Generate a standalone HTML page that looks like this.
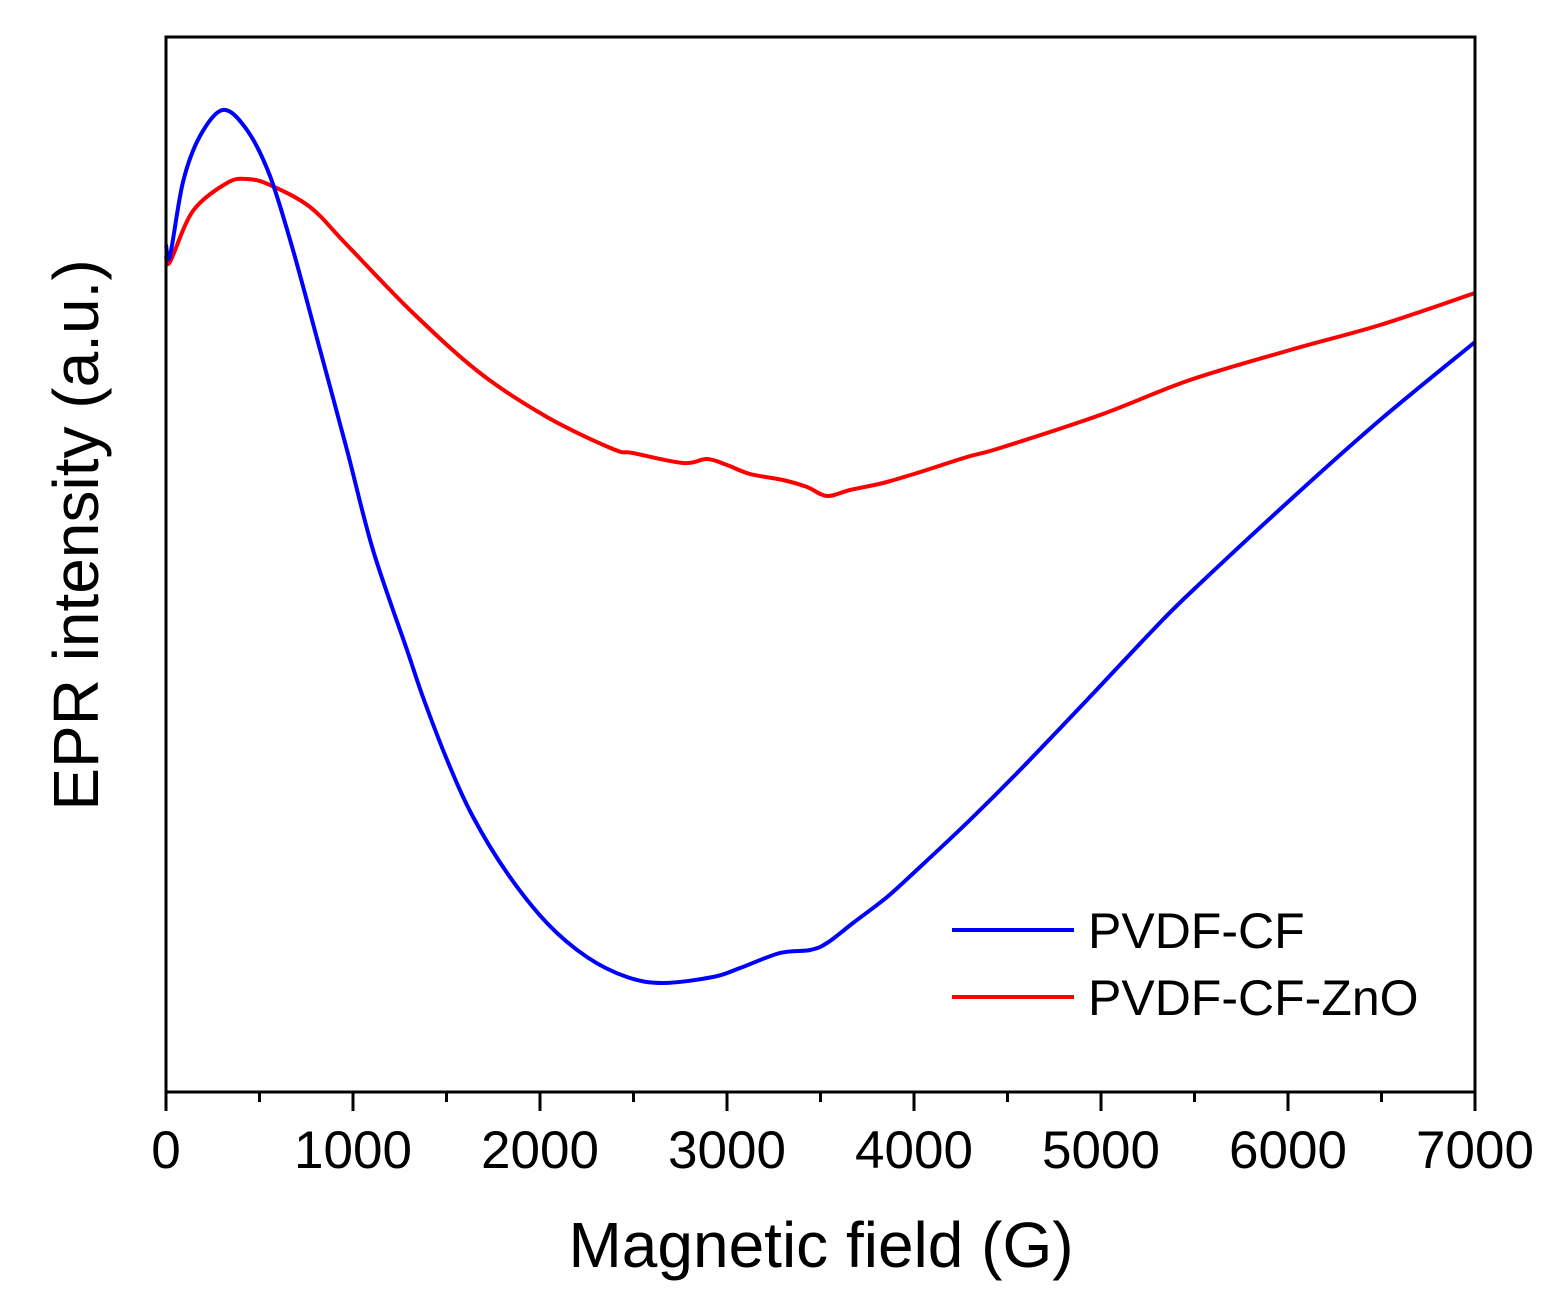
<!DOCTYPE html>
<html><head><meta charset="utf-8"><style>
body{margin:0;background:#fff}
svg{display:block;font-family:"Liberation Sans",Arial,sans-serif}
</style></head><body>
<svg id="chart" width="1558" height="1299" viewBox="0 0 1558 1299">
<rect width="1558" height="1299" fill="#fff"/>
<g id="plot"></g>
<rect x="166" y="37" width="1309" height="1055" fill="none" stroke="#000" stroke-width="3"/>
<g id="ticks"></g>
<text x="821" y="1267" font-size="64" text-anchor="middle">Magnetic field (G)</text>
<text transform="translate(98,535) rotate(-90)" font-size="64" text-anchor="middle">EPR intensity (a.u.)</text>
<g>
<line x1="952" y1="930" x2="1074" y2="930" stroke="#0000ff" stroke-width="4"/>
<text x="1088" y="948" font-size="50">PVDF-CF</text>
<line x1="952" y1="997" x2="1074" y2="997" stroke="#ff0000" stroke-width="4"/>
<text x="1088" y="1015" font-size="50">PVDF-CF-ZnO</text>
</g>
</svg>
<script>
const xTicks = [0,1000,2000,3000,4000,5000,6000,7000];
const xMinor = [500,1500,2500,3500,4500,5500,6500];
const blueX = [0,21,91,182,305,433,556,679,824,968,1107,1289,1374,1503,1642,1824,2037,2251,2465,2658,2925,3070,3283,3444,3535,3674,3856,4032,4299,4567,4925,5278,5476,6011,6492,7000];
const blueY = [845,834,908,954,980,960,914,840,740,640,540,440,393,330,273,217,167,133,113,107,113,122,137,140,147,167,193,223,270,320,390,460,497,590,670,748];
const redX = [0,21,144,326,433,556,770,968,1321,1679,2037,2390,2497,2765,2893,3000,3123,3299,3428,3535,3658,3834,4016,4283,4460,4995,5476,6011,6492,7000];
const redY = [835,828,879,907,911,905,883,845,777,717,673,641,637,627,631,625,616,610,603,594,600,607,617,633,642,675,710,740,765,797];

const X0=166,X1=1475,Y0=1090,Y1=37;
const xs = v => X0 + v/7000*(X1-X0);
const ys = v => Y0 - v/1053*(Y0-Y1);
const NS="http://www.w3.org/2000/svg";
const plot=document.getElementById('plot'), ticks=document.getElementById('ticks');
function smoothPath(pts){
  let d='M'+pts[0][0].toFixed(1)+','+pts[0][1].toFixed(1);
  for(let i=0;i<pts.length-1;i++){
    const p0=pts[i-1]||pts[i],p1=pts[i],p2=pts[i+1],p3=pts[i+2]||p2;
    const c1=[p1[0]+(p2[0]-p0[0])/6,p1[1]+(p2[1]-p0[1])/6];
    const c2=[p2[0]-(p3[0]-p1[0])/6,p2[1]-(p3[1]-p1[1])/6];
    d+=' C'+c1[0].toFixed(1)+','+c1[1].toFixed(1)+' '+c2[0].toFixed(1)+','+c2[1].toFixed(1)+' '+p2[0].toFixed(1)+','+p2[1].toFixed(1);
  }
  return d;
}
function line(xa,ya,color,name){
  const p=document.createElementNS(NS,'path');
  p.setAttribute('d',smoothPath(xa.map((x,i)=>[xs(x),ys(ya[i])])));
  p.setAttribute('fill','none');p.setAttribute('stroke',color);p.setAttribute('stroke-width','4');
  p.setAttribute('stroke-linejoin','round');
  
  
  plot.appendChild(p);
}
line(redX,redY,'#ff0000','series-pvdf-cf-zno');
line(blueX,blueY,'#0000ff','series-pvdf-cf');
xTicks.forEach(v=>{
  const l=document.createElementNS(NS,'line');
  l.setAttribute('x1',xs(v));l.setAttribute('x2',xs(v));l.setAttribute('y1',1092);l.setAttribute('y2',1111);
  l.setAttribute('stroke','#000');l.setAttribute('stroke-width','3');
  
  
  ticks.appendChild(l);
  const t=document.createElementNS(NS,'text');
  t.setAttribute('x',xs(v));t.setAttribute('y',1168);t.setAttribute('font-size','53');t.setAttribute('text-anchor','middle');
  t.textContent=v;
  
  
  ticks.appendChild(t);
});
xMinor.forEach(v=>{
  const l=document.createElementNS(NS,'line');
  l.setAttribute('x1',xs(v));l.setAttribute('x2',xs(v));l.setAttribute('y1',1092);l.setAttribute('y2',1102);
  l.setAttribute('stroke','#000');l.setAttribute('stroke-width','3');
  
  
  ticks.appendChild(l);
});
</script>
</body></html>
